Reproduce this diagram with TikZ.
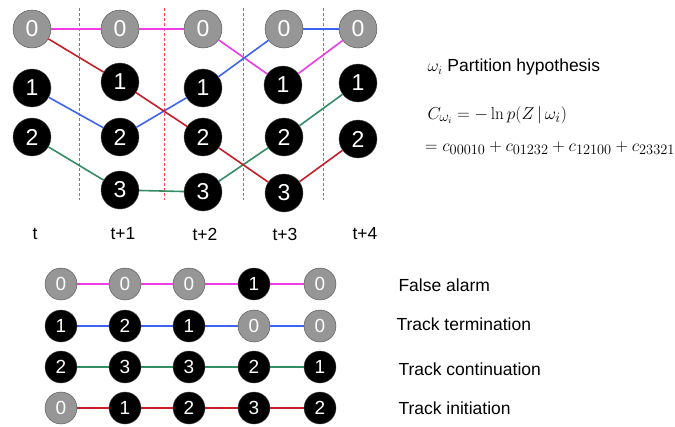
\documentclass[tikz,border=0pt]{standalone}
\usepackage[no-math]{fontspec}
\setmainfont{Liberation Sans}
\usepackage{amsmath}
\definecolor{nodegray}{RGB}{150,150,150}
\definecolor{fapink}{RGB}{240,60,230}
\definecolor{ttblue}{RGB}{60,100,240}
\definecolor{tcgreen}{RGB}{50,140,100}
\definecolor{tired}{RGB}{200,30,40}
\definecolor{sepred}{RGB}{255,70,70}

\tikzset{
    meas/.style={draw=black!70,circle,fill=black,text=white,minimum size=38pt,inner sep=0pt,font=\fontsize{23}{23}\selectfont},
    clut/.style={meas,fill=nodegray},
    smeas/.style={meas,minimum size=32pt,font=\fontsize{19}{19}\selectfont},
    sclut/.style={smeas,fill=nodegray},
    trk/.style={line width=1.6pt},
    sep/.style={draw=sepred,line width=1pt,dash pattern=on 3pt off 2pt},
    lbl/.style={font=\fontsize{17.5}{17.5}\selectfont},
    eqn/.style={font=\fontsize{19}{19}\selectfont}
}

\begin{document}
\begin{tikzpicture}[x=1pt,y=-1pt]
    \useasboundingbox (0,0) rectangle (675,426);

        % scans t ... t+4
        \coordinate (v00) at (32,29);
        \coordinate (v01) at (32,88);
        \coordinate (v02) at (32,137);
        \coordinate (v10) at (120,29);
        \coordinate (v11) at (120,82);
        \coordinate (v12) at (120,137);
        \coordinate (v13) at (120,190);
        \coordinate (v20) at (203,29);
        \coordinate (v21) at (203,88);
        \coordinate (v22) at (203,137);
        \coordinate (v23) at (203,192);
        \coordinate (v30) at (284,29);
        \coordinate (v31) at (283,85);
        \coordinate (v32) at (284,137);
        \coordinate (v33) at (284,193);
        \coordinate (v40) at (358,29);
        \coordinate (v41) at (358,83);
        \coordinate (v42) at (358,139);

        \foreach \x in {79.5,164.5,243.5,323.5}
            \draw[sep] (\x,8) -- (\x,200);

        \node[clut] (n00) at (v00) {0};
        \node[meas] (n01) at (v01) {1};
        \node[meas] (n02) at (v02) {2};
        \node[clut] (n10) at (v10) {0};
        \node[meas] (n11) at (v11) {1};
        \node[meas] (n12) at (v12) {2};
        \node[meas] (n13) at (v13) {3};
        \node[clut] (n20) at (v20) {0};
        \node[meas] (n21) at (v21) {1};
        \node[meas] (n22) at (v22) {2};
        \node[meas] (n23) at (v23) {3};
        \node[clut] (n30) at (v30) {0};
        \node[meas] (n31) at (v31) {1};
        \node[meas] (n32) at (v32) {2};
        \node[meas] (n33) at (v33) {3};
        \node[clut] (n40) at (v40) {0};
        \node[meas] (n41) at (v41) {1};
        \node[meas] (n42) at (v42) {2};

        \draw[trk,fapink] (n00) -- (n10) -- (n20) -- (n31) -- (n40);
        \draw[trk,ttblue] (n01) -- (n12) -- (n21) -- (n30) -- (n40);
        \draw[trk,tcgreen] (n02) -- (n13) -- (n23) -- (n32) -- (n41);
        \draw[trk,tired] (n00) -- (n11) -- (n22) -- (n33) -- (n42);

        \node[lbl] (t0) at (35,234) {t};
        \node[lbl] (t1) at (123,234) {t+1};
        \node[lbl] (t2) at (205,234) {t+2};
        \node[lbl] (t3) at (285,234) {t+3};
        \node[lbl] (t4) at (365,234) {t+4};

        % partition hypothesis and its cost
        \node[lbl,anchor=west] (hyp) at (424,67) {$\omega_i$ Partition hypothesis};
        \node[eqn,anchor=west] (cost) at (424,115) {$C_{\omega_i}=-\ln p(Z\,|\,\omega_i)$};
        \node[eqn,anchor=west,inner xsep=1pt] (sum) at (424,148) {$=c_{00010}+c_{01232}+c_{12100}+c_{23321}$};

        % the four tracks of the hypothesis
        \node[sclut] (fa1) at (61,284) {0};
        \node[sclut] (fa2) at (125,284) {0};
        \node[sclut] (fa3) at (189,284) {0};
        \node[smeas] (fa4) at (254,284) {1};
        \node[sclut] (fa5) at (320,284) {0};
        \node[smeas] (tt1) at (61,326) {1};
        \node[smeas] (tt2) at (125,326) {2};
        \node[smeas] (tt3) at (189,326) {1};
        \node[sclut] (tt4) at (254,326) {0};
        \node[sclut] (tt5) at (320,326) {0};
        \node[smeas] (tc1) at (61,367) {2};
        \node[smeas] (tc2) at (125,367) {3};
        \node[smeas] (tc3) at (189,367) {3};
        \node[smeas] (tc4) at (254,367) {2};
        \node[smeas] (tc5) at (320,367) {1};
        \node[sclut] (ti1) at (61,408) {0};
        \node[smeas] (ti2) at (125,408) {1};
        \node[smeas] (ti3) at (189,408) {2};
        \node[smeas] (ti4) at (254,408) {3};
        \node[smeas] (ti5) at (320,408) {2};

        \draw[trk,fapink] (fa1) -- (fa2) -- (fa3) -- (fa4) -- (fa5);
        \draw[trk,ttblue] (tt1) -- (tt2) -- (tt3) -- (tt4) -- (tt5);
        \draw[trk,tcgreen] (tc1) -- (tc2) -- (tc3) -- (tc4) -- (tc5);
        \draw[trk,tired] (ti1) -- (ti2) -- (ti3) -- (ti4) -- (ti5);

        \node[lbl,anchor=west] (falab) at (395,285) {False alarm};
        \node[lbl,anchor=west] (ttlab) at (393,324) {Track termination};
        \node[lbl,anchor=west] (tclab) at (395,369) {Track continuation};
        \node[lbl,anchor=west] (tilab) at (395,408) {Track initiation};
\end{tikzpicture}
\end{document}
